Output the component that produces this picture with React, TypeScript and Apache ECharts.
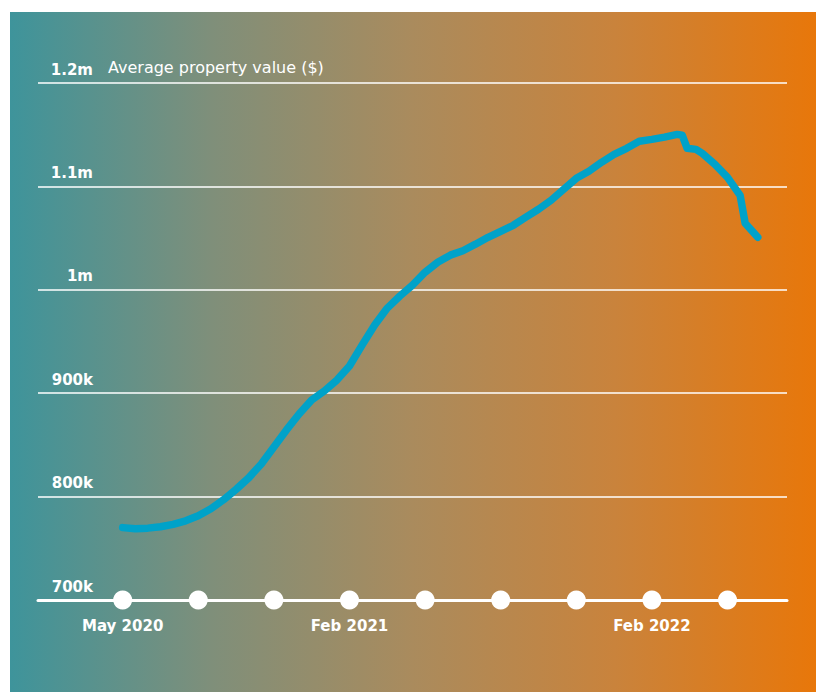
import React, { useEffect, useRef } from "react";
import * as echarts from "echarts";

// months since May 2020
const months = [
  0, 0.5, 1, 1.5, 2, 2.5, 3, 3.5, 4, 4.5, 5, 5.5, 6, 6.5, 7, 7.5, 8, 8.5, 9, 9.5,
  10, 10.5, 11, 11.5, 12, 12.5, 13, 13.5, 14, 14.5, 15, 15.5, 16, 16.5, 17, 17.5,
  18, 18.5, 19, 19.5, 20, 20.5, 21, 21.5, 22, 22.2, 22.4, 22.75, 23, 23.5, 24,
  24.5, 24.7, 25.2,
];
const values = [
  770000, 769000, 769500, 770800, 773200, 776600, 781400, 788200, 796900, 807000,
  818100, 831600, 848000, 864500, 879900, 893400, 902100, 912700, 926300, 946500,
  965900, 982300, 994000, 1004500, 1017000, 1026700, 1033500, 1037800, 1044100,
  1050800, 1056600, 1062400, 1070200, 1077900, 1086600, 1097200, 1107800, 1114600,
  1123300, 1131000, 1136800, 1143600, 1145500, 1147700, 1150300, 1149500, 1136800,
  1135800, 1131900, 1121300, 1108700, 1091400, 1064400, 1050800,
];
const dotMonths = [0, 3, 6, 9, 12, 15, 18, 21, 24];
const xLabelMonths = [0, 9, 21];
const xLabelTexts = ["May 2020", "Feb 2021", "Feb 2022"];
const yTicks = [700000, 800000, 900000, 1000000, 1100000, 1200000];
const yTickLabels = ["700k", "800k", "900k", "1m", "1.1m", "1.2m"];
const yTitle = "Average property value ($)";

const FONT = "DejaVu Sans";

export default function App() {
  const ref = useRef<HTMLDivElement>(null);
  useEffect(() => {
    if (!ref.current) return;
    const chart = echarts.init(ref.current, null, { renderer: "svg" });
    chart.setOption({
      animation: false,
      backgroundColor: "transparent",
      grid: { left: 38, right: 29, top: 83, bottom: 92 },
      xAxis: {
        type: "value",
        min: -3.36,
        max: 26.36,
        axisLine: { show: true, lineStyle: { color: "#ffffff", width: 3 } },
        axisTick: { show: false },
        splitLine: { show: false },
        axisLabel: {
          customValues: xLabelMonths,
          formatter: (v: number) => {
            const i = xLabelMonths.indexOf(v);
            return i >= 0 ? xLabelTexts[i] : "";
          },
          color: "#ffffff",
          fontFamily: FONT,
          fontWeight: "bold",
          fontSize: 15,
          margin: 18,
        },
      },
      yAxis: {
        type: "value",
        min: yTicks[0],
        max: yTicks[yTicks.length - 1],
        interval: 100000,
        axisLine: { show: false },
        axisTick: { show: false },
        splitLine: { show: true, lineStyle: { color: "#ffffff", width: 1.5 } },
        axisLabel: {
          inside: true,
          align: "right",
          margin: 55,
          verticalAlign: "bottom",
          padding: [0, 0, 6, 0],
          color: "#ffffff",
          fontFamily: FONT,
          fontWeight: "bold",
          fontSize: 15,
          formatter: (v: number) => {
            const i = yTicks.indexOf(v);
            return i >= 0 ? yTickLabels[i] : "";
          },
        },
      },
      graphic: [
        {
          type: "text",
          left: 108,
          top: 59,
          style: {
            text: yTitle,
            fill: "#ffffff",
            font: `16px "${FONT}"`,
          },
        },
      ],
      series: [
        {
          type: "line",
          data: months.map((m, i) => [m, values[i]]),
          symbol: "none",
          smooth: false,
          lineStyle: { color: "#00a2c9", width: 7.5, cap: "round", join: "round" },
          z: 5,
        },
        {
          type: "scatter",
          data: dotMonths.map((m) => [m, yTicks[0]]),
          symbol: "circle",
          symbolSize: 19,
          itemStyle: { color: "#ffffff", opacity: 1 },
          clip: false,
          z: 6,
        },
      ],
    });
    return () => chart.dispose();
  }, []);
  return (
    <div style={{ position: "absolute", left: 0, top: 0, width: 816, height: 692 }}>
      <div
        style={{
          position: "absolute",
          left: 10,
          top: 12,
          width: 806,
          height: 680,
          background:
            "linear-gradient(to right, #3e949b 0%, #7f8f7a 25%, #aa8b5d 50%, #c9833c 75%, #e8770a 100%)",
        }}
      />
      <div ref={ref} style={{ position: "absolute", left: 0, top: 0, width: 816, height: 692 }} />
    </div>
  );
}
